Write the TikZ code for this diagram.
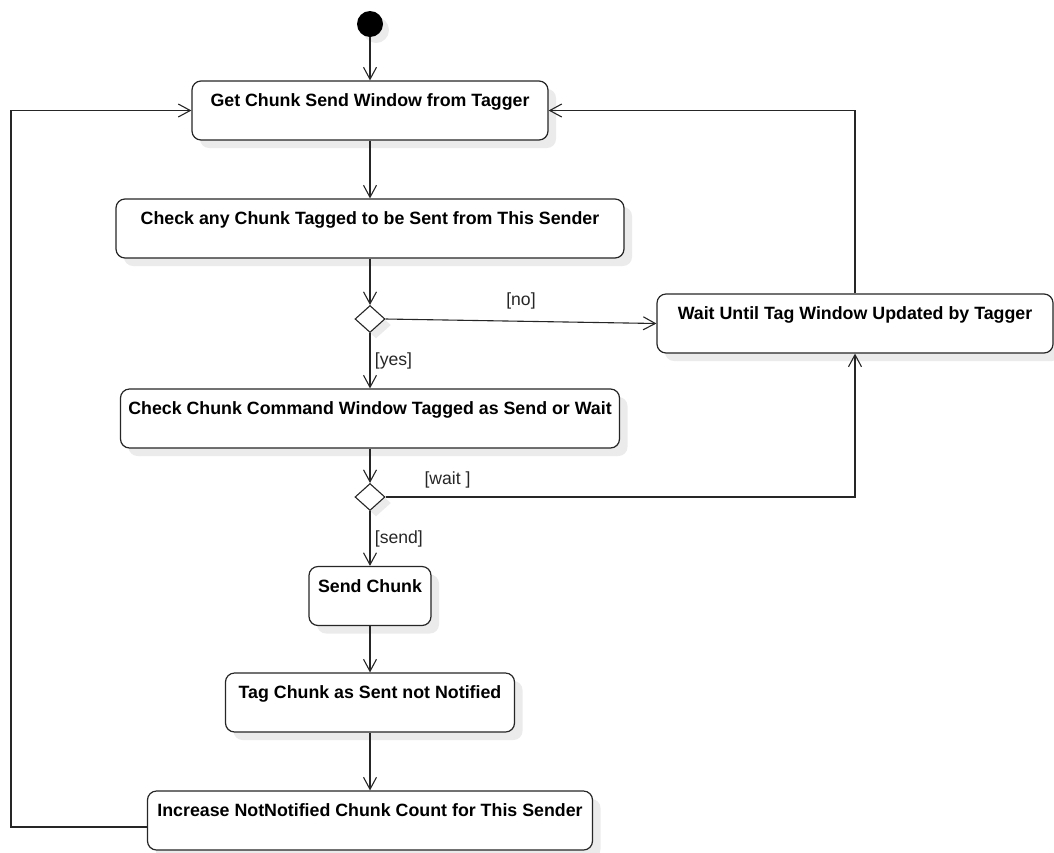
\documentclass[tikz,border=0pt]{standalone}
\usepackage{fontspec}
\setmainfont{Liberation Sans}
\usetikzlibrary{shapes.geometric,arrows.meta,shadows}
\begin{document}
\begin{tikzpicture}[x=1pt,y=-1pt,
  shade8/.style={drop shadow={shadow xshift=8pt, shadow yshift=-8pt, fill=black!8, opacity=1}},
  shade6/.style={drop shadow={shadow xshift=6pt, shadow yshift=-6pt, fill=black!8, opacity=1}},
  act/.style={draw=black!85, line width=1.2pt, fill=white, rounded corners=9pt,
    minimum height=59pt, text height=13pt, text depth=21pt, inner ysep=12.5pt, inner xsep=4pt,
    font=\fontsize{17.8}{20}\selectfont\bfseries, shade8},
  dec/.style={diamond, draw=black!85, line width=1.1pt, fill=white, inner sep=0pt,
    minimum width=30pt, minimum height=27pt, shade6},
  start/.style={circle, fill=black, minimum size=26pt, inner sep=0pt, shade6},
  flow/.style={draw=black!85, line width=1.1pt, -{Straight Barb[length=12pt,width=13pt]}},
  lbl/.style={font=\fontsize{17.6}{20}\selectfont, text=black!85}
]
\useasboundingbox (0,0) rectangle (1054,852);

% activities
\node[start] (s) at (370,24) {};
\node[act, minimum width=356pt] (b1) at (370,110.5) {Get Chunk Send Window from Tagger};
\node[act, minimum width=508pt] (b2) at (370,228.5) {Check any Chunk Tagged to be Sent from This Sender};
\node[dec] (d1) at (370,319) {};
\node[act, minimum width=396pt] (wait) at (855,323.5) {Wait Until Tag Window Updated by Tagger};
\node[act, minimum width=499pt] (b3) at (370,418.5) {Check Chunk Command Window Tagged as Send or Wait};
\node[dec] (d2) at (370,497) {};
\node[act, minimum width=122pt] (send) at (370,596) {Send Chunk};
\node[act, minimum width=289pt] (tag) at (370,702.5) {Tag Chunk as Sent not Notified};
\node[act, minimum width=445pt] (inc) at (370,820.5) {Increase NotNotified Chunk Count for This Sender};

% control flow
\draw[flow] (s) -- (b1);
\draw[flow] (b1) -- (b2);
\draw[flow] (b2) -- (d1);
\draw[flow] (d1) -- node[lbl, right=1pt]{[yes]} (b3);
\draw[flow] (d1.east) -- node[lbl, above=8pt]{[no]} (wait.west);
\draw[flow] (b3) -- (d2);
\draw[flow] (d2) -- node[lbl, right=1pt]{[send]} (send);
\draw[flow] (d2.east) -| node[lbl, pos=0.066, above=5pt]{[wait ]} (wait.south);
\draw[flow] (wait.north) |- (b1.east);
\draw[flow] (send) -- (tag);
\draw[flow] (tag) -- (inc);

% loop back to the start of the cycle
\coordinate (incout) at ([yshift=-6.5pt]inc.west);
\coordinate (lx) at (11,827);
\draw[flow] (incout) -- (lx) |- (b1.west);
\end{tikzpicture}
\end{document}
